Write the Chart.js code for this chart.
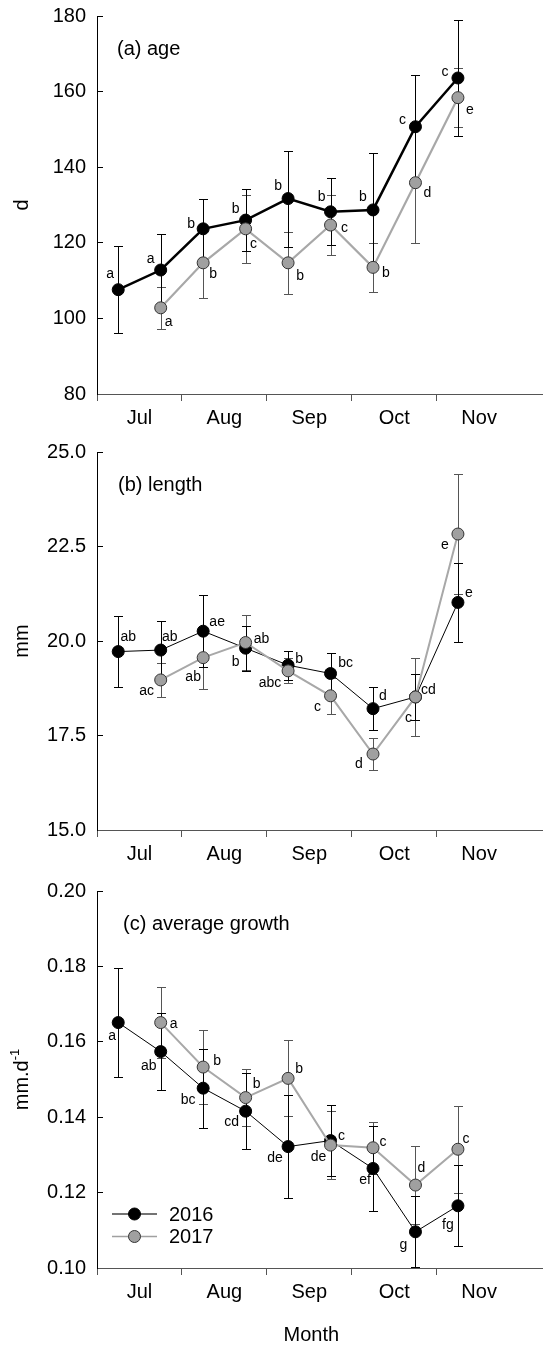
<!DOCTYPE html>
<html>
<head>
<meta charset="utf-8">
<script src="https://cdn.jsdelivr.net/npm/chart.js@4.4.1/dist/chart.umd.min.js"></script>
<style>
  body { margin: 0; background: #fff; width: 549px; height: 1347px; position: relative; overflow: hidden; }
  canvas { position: absolute; left: 0; }
</style>
</head>
<body>
<canvas id="age" width="549" height="440" style="top:0px"></canvas>
<canvas id="length" width="549" height="440" style="top:436px"></canvas>
<canvas id="growth" width="549" height="472" style="top:875px"></canvas>
<script>
const months = ['Jul', 'Aug', 'Sep', 'Oct', 'Nov'];

// sampling dates, in months counted from 1 July
const dates2016 = [0.25, 0.75, 1.25, 1.75, 2.25, 2.75, 3.25, 3.75, 4.25];
const dates2017 = [0.75, 1.25, 1.75, 2.25, 2.75, 3.25, 3.75, 4.25];

// (a) age, d
const age2016 = [107.6, 112.8, 123.7, 126.0, 131.7, 128.2, 128.7, 150.7, 163.6];
const ageSd2016 = [11.5, 9.5, 7.8, 8.3, 12.7, 8.9, 15.0, 13.6, 15.3];
const ageGroups2016 = ['a', 'a', 'b', 'b', 'b', 'b', 'b', 'c', 'c'];
const age2017 = [102.8, 114.7, 123.7, 114.7, 124.7, 113.5, 135.9, 158.4];
const ageSd2017 = [5.5, 9.2, 9.0, 8.2, 8.0, 6.5, 15.9, 7.8];
const ageGroups2017 = ['a', 'b', 'c', 'b', 'c', 'b', 'd', 'e'];

// (b) length, mm
const len2016 = [19.72, 19.76, 20.26, 19.81, 19.36, 19.14, 18.21, 18.52, 21.02];
const lenSd2016 = [0.93, 0.78, 0.96, 0.60, 0.38, 0.55, 0.56, 0.62, 1.04];
const lenGroups2016 = ['ab', 'ab', 'ae', 'b', 'b', 'bc', 'd', 'cd', 'e'];
const len2017 = [18.97, 19.56, 19.96, 19.21, 18.55, 17.01, 18.52, 22.83];
const lenSd2017 = [0.46, 0.82, 0.74, 0.33, 0.48, 0.43, 1.02, 1.59];
const lenGroups2017 = ['ac', 'ab', 'ab', 'abc', 'c', 'd', 'c', 'e'];

// (c) average growth, mm per day
const growth2016 = [0.1651, 0.1574, 0.1477, 0.1416, 0.1322, 0.1338, 0.1264, 0.1096, 0.1165];
const growthSd2016 = [0.0144, 0.0103, 0.0105, 0.0100, 0.0136, 0.0095, 0.0112, 0.0094, 0.0107];
const growthGroups2016 = ['a', 'ab', 'bc', 'cd', 'de', 'c', 'ef', 'g', 'fg'];
const growth2017 = [0.1651, 0.1533, 0.1452, 0.1503, 0.1326, 0.1319, 0.1220, 0.1315];
const growthSd2017 = [0.0094, 0.0098, 0.0076, 0.0101, 0.0090, 0.0069, 0.0104, 0.0116];
const growthGroups2017 = ['a', 'b', 'b', 'b', 'de', 'c', 'd', 'c'];

// where each letter sits relative to its point (px)
const ageNudge2016 = [[-8,-16],[-10,-11],[-12,-5],[-10,-11],[-10,-12],[-9,-15],[-10,-13],[-13,-7],[-13,-6]];
const ageNudge2017 = [[8,14],[10,11],[8,15],[12,13],[14,3],[13,6],[12,10],[12,12]];
const lenNudge2016 = [[10,-14],[9,-13],[14,-9],[-10,14],[11,-6],[15,-10],[10,-13],[13,-7],[11,-9]];
const lenNudge2017 = [[-14,11],[-10,20],[16,-3],[-18,12],[-13,11],[-14,10],[-7,21],[-13,11]];
const growthNudge2016 = [[-6,14],[-12,15],[-15,12],[-14,11],[-13,12],[11,-4],[-8,12],[-12,13],[-10,19]];
const growthNudge2017 = [[13,2],[14,-6],[11,-13],[11,-9],[-12,12],[10,-6],[6,-17],[8,-10]];

const FONT = '"Liberation Sans", Arial, sans-serif';
Chart.defaults.font.family = FONT;
Chart.defaults.color = '#000';

const xy = (xs, ys) => xs.map((x, i) => ({ x: x, y: ys[i] }));

// error bars under the markers, group letters above them
const annotate = {
  id: 'annotate',
  beforeDatasetsDraw(chart) {
    const ctx = chart.ctx, xs = chart.scales.x, ys = chart.scales.y;
    ctx.save();
    chart.data.datasets.forEach(ds => {
      ctx.strokeStyle = ds.errColor;
      ctx.lineWidth = 1;
      ds.data.forEach((d, i) => {
        const x = Math.round(xs.getPixelForValue(d.x)) + 0.5;
        const t = Math.round(ys.getPixelForValue(d.y + ds.sd[i])) + 0.5;
        const b = Math.round(ys.getPixelForValue(d.y - ds.sd[i])) + 0.5;
        ctx.beginPath();
        ctx.moveTo(x, t); ctx.lineTo(x, b);
        ctx.moveTo(x - 4.5, t); ctx.lineTo(x + 4.5, t);
        ctx.moveTo(x - 4.5, b); ctx.lineTo(x + 4.5, b);
        ctx.stroke();
      });
    });
    ctx.restore();
  },
  afterDatasetsDraw(chart, args, opts) {
    const ctx = chart.ctx, xs = chart.scales.x, ys = chart.scales.y, area = chart.chartArea;
    ctx.save();
    ctx.fillStyle = '#000';
    ctx.textAlign = 'center';
    ctx.textBaseline = 'middle';
    ctx.font = '14px ' + FONT;
    chart.data.datasets.forEach(ds => {
      ds.data.forEach((d, i) => {
        const n = ds.nudge[i];
        ctx.fillText(ds.groups[i], xs.getPixelForValue(d.x) + n[0], ys.getPixelForValue(d.y) + n[1]);
      });
    });

    // panel title
    ctx.textAlign = 'left';
    ctx.textBaseline = 'alphabetic';
    ctx.font = '20px ' + FONT;
    ctx.fillText(opts.title, area.left + opts.titleDx, area.top + 39);

    // rotated y-axis title with optional superscript
    ctx.save();
    ctx.translate(28, (area.top + area.bottom) / 2);
    ctx.rotate(-Math.PI / 2);
    ctx.font = '20px ' + FONT;
    const w1 = ctx.measureText(opts.unit).width;
    ctx.font = '13px ' + FONT;
    const w2 = opts.sup ? ctx.measureText(opts.sup).width : 0;
    ctx.font = '20px ' + FONT;
    ctx.fillText(opts.unit, -(w1 + w2) / 2, 0);
    if (opts.sup) {
      ctx.font = '13px ' + FONT;
      ctx.fillText(opts.sup, -(w1 + w2) / 2 + w1, -9);
    }
    ctx.restore();

    if (opts.xTitle) {
      ctx.textAlign = 'center';
      ctx.font = '20px ' + FONT;
      ctx.fillText(opts.xTitle, xs.getPixelForValue(2.5) + 2, area.bottom + 73);
    }

    if (opts.legend) {
      const sets = chart.data.datasets.slice().reverse();
      sets.forEach((ds, k) => {
        const y = area.bottom - 54 + k * 22.5;
        const x0 = area.left + 15, x1 = area.left + 60;
        ctx.strokeStyle = ds.legendLine;
        ctx.lineWidth = 1.5;
        ctx.beginPath(); ctx.moveTo(x0, y); ctx.lineTo(x1, y); ctx.stroke();
        ctx.beginPath();
        ctx.arc((x0 + x1) / 2, y, 6, 0, Math.PI * 2);
        ctx.fillStyle = ds.pointBackgroundColor;
        ctx.fill();
        ctx.lineWidth = 1;
        ctx.strokeStyle = ds.pointBorderColor;
        ctx.stroke();
        ctx.fillStyle = '#000';
        ctx.textAlign = 'left';
        ctx.textBaseline = 'middle';
        ctx.font = '20px ' + FONT;
        ctx.fillText(ds.label, area.left + 72, y + 1);
      });
    }
    ctx.restore();
  }
};

function makePanel(id, p) {
  return new Chart(document.getElementById(id), {
    type: 'line',
    plugins: [annotate],
    data: {
      datasets: [
        {
          label: '2017', order: 0,
          data: xy(dates2017, p.y2017), sd: p.sd2017, groups: p.g2017, nudge: p.n2017,
          errColor: '#555', legendLine: '#a0a0a0',
          borderColor: '#a8a8a8', borderWidth: p.w2017,
          pointRadius: 6, pointBackgroundColor: '#a0a0a0', pointBorderColor: '#333', pointBorderWidth: 1
        },
        {
          label: '2016', order: 1,
          data: xy(dates2016, p.y2016), sd: p.sd2016, groups: p.g2016, nudge: p.n2016,
          errColor: '#000', legendLine: '#444',
          borderColor: '#000', borderWidth: p.w2016,
          pointRadius: 6, pointBackgroundColor: '#000', pointBorderColor: '#000', pointBorderWidth: 1
        }
      ]
    },
    options: {
      responsive: false,
      animation: false,
      events: [],
      layout: { padding: { top: 16, left: 0, right: 0, bottom: 0 } },
      plugins: {
        legend: { display: false },
        tooltip: { enabled: false },
        annotate: { title: p.title, titleDx: p.titleDx, unit: p.unit, sup: p.sup, xTitle: p.xTitle, legend: p.legend }
      },
      scales: {
        x: {
          type: 'linear', min: 0, max: 5.24,
          afterBuildTicks: s => {
            s.ticks = [];
            for (let v = 0; v <= 4.5; v += 0.5) s.ticks.push({ value: v });
          },
          afterFit: s => { s.height = p.xHeight; s.paddingLeft = 0; s.paddingRight = 0; },
          ticks: {
            autoSkip: false, maxRotation: 0, padding: 5,
            font: { size: 20 }, color: '#000',
            callback: v => Number.isInteger(v) ? '' : months[Math.floor(v)]
          },
          grid: {
            drawOnChartArea: false, tickLength: 7, lineWidth: 1,
            tickColor: c => Number.isInteger(c.tick.value) ? '#555' : 'rgba(0,0,0,0)'
          },
          border: { color: '#555', width: 1 }
        },
        y: {
          min: p.min, max: p.max,
          afterFit: s => { s.width = 97; s.paddingTop = 0; s.paddingBottom = 0; },
          ticks: {
            stepSize: p.step, padding: 17,
            font: { size: 20 }, color: '#000',
            callback: v => v.toFixed(p.dec)
          },
          grid: { drawOnChartArea: false, tickLength: -6, tickColor: '#000', lineWidth: 1 },
          border: { color: '#000', width: 1 }
        }
      }
    }
  });
}

makePanel('age', {
  y2016: age2016, sd2016: ageSd2016, g2016: ageGroups2016, n2016: ageNudge2016, w2016: 2.5,
  y2017: age2017, sd2017: ageSd2017, g2017: ageGroups2017, n2017: ageNudge2017, w2017: 2.2,
  min: 80, max: 180, step: 20, dec: 0, xHeight: 46,
  title: '(a) age', titleDx: 20, unit: 'd'
});

makePanel('length', {
  y2016: len2016, sd2016: lenSd2016, g2016: lenGroups2016, n2016: lenNudge2016, w2016: 1,
  y2017: len2017, sd2017: lenSd2017, g2017: lenGroups2017, n2017: lenNudge2017, w2017: 2,
  min: 15, max: 25, step: 2.5, dec: 1, xHeight: 46,
  title: '(b) length', titleDx: 21, unit: 'mm'
});

makePanel('growth', {
  y2016: growth2016, sd2016: growthSd2016, g2016: growthGroups2016, n2016: growthNudge2016, w2016: 1,
  y2017: growth2017, sd2017: growthSd2017, g2017: growthGroups2017, n2017: growthNudge2017, w2017: 2,
  min: 0.10, max: 0.20, step: 0.02, dec: 2, xHeight: 79,
  title: '(c) average growth', titleDx: 26, unit: 'mm.d', sup: '-1',
  xTitle: 'Month', legend: true
});
</script>
</body>
</html>
